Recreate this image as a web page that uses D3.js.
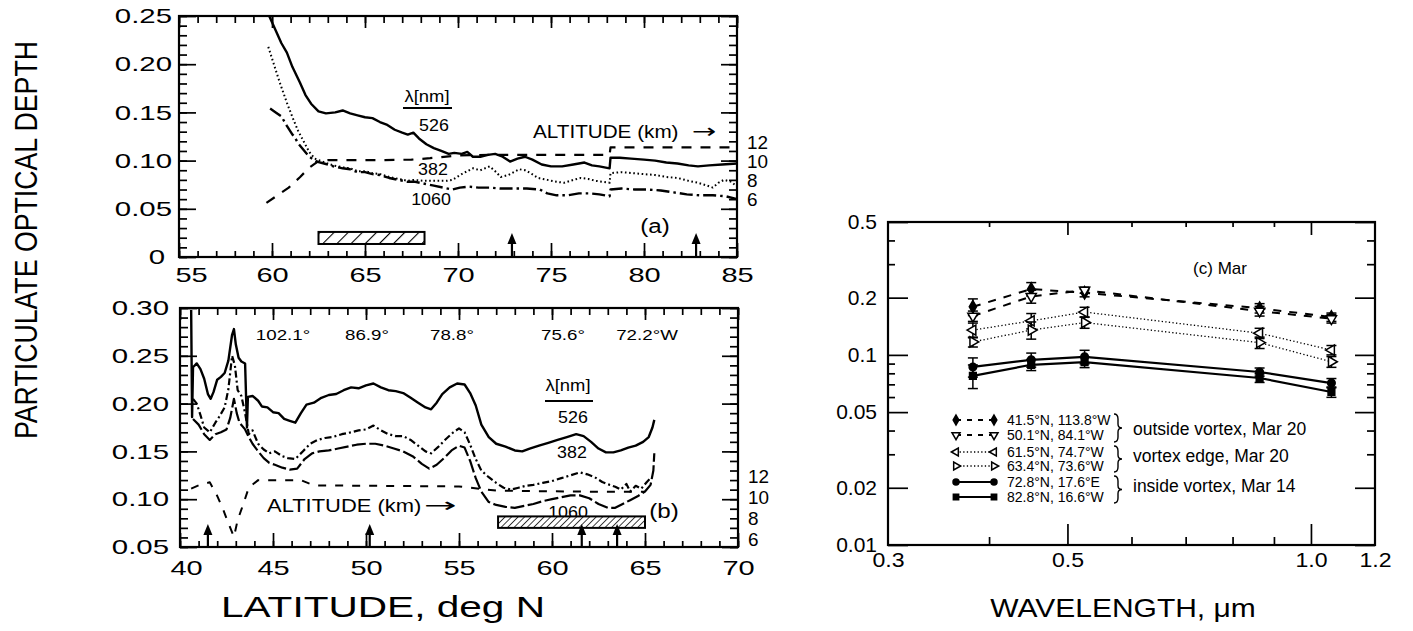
<!DOCTYPE html>
<html><head><meta charset="utf-8">
<script src="https://cdn.jsdelivr.net/npm/d3@7"></script>
<style>body{margin:0;background:#fff}svg{display:block}</style>
</head><body>
<svg id="chart" width="1413" height="631"></svg>
<script>
// ================= DATA =================
// ---- Panel (a) ----
const latTicksA = [55, 60, 65, 70, 75, 80, 85];
const aodTicksA = [0, 0.05, 0.10, 0.15, 0.20, 0.25];
const altTicks = [6, 8, 10, 12];
const a526 = [[59.85,0.25],[60.2,0.235],[60.5,0.222],[60.8,0.212],[61.1,0.197],[61.5,0.181],[61.8,0.168],[62.1,0.159],[62.5,0.151],[62.9,0.149],[63.4,0.150],[63.8,0.152],[64.2,0.149],[64.6,0.147],[65.0,0.145],[65.4,0.144],[65.8,0.140],[66.2,0.137],[66.6,0.132],[67.0,0.129],[67.3,0.127],[67.6,0.129],[67.9,0.123],[68.3,0.117],[68.7,0.113],[69.1,0.110],[69.5,0.107],[69.8,0.108],[70.2,0.107],[70.5,0.109],[70.8,0.104],[71.2,0.104],[71.6,0.106],[72.0,0.107],[72.4,0.104],[72.8,0.099],[73.2,0.102],[73.6,0.104],[74.0,0.101],[74.5,0.096],[75.0,0.094],[75.6,0.094],[76.2,0.096],[76.8,0.098],[77.2,0.095],[77.6,0.094],[78.15,0.092],[78.2,0.103],[78.7,0.103],[79.3,0.102],[80.0,0.101],[80.6,0.100],[81.2,0.098],[81.8,0.097],[82.4,0.095],[82.9,0.094],[83.5,0.095],[84.2,0.096],[85,0.097]];
const a382 = [[59.8,0.218],[60.1,0.200],[60.4,0.182],[60.8,0.160],[61.1,0.145],[61.4,0.131],[61.7,0.120],[62.0,0.109],[62.3,0.102],[62.7,0.099],[63.3,0.095],[63.8,0.093],[64.2,0.092],[64.6,0.089],[65.0,0.089],[65.4,0.087],[65.8,0.086],[66.3,0.083],[66.8,0.081],[67.3,0.079],[67.6,0.080],[68.2,0.079],[68.8,0.079],[69.4,0.079],[69.7,0.080],[70.2,0.086],[70.8,0.092],[71.2,0.090],[71.7,0.094],[72.0,0.089],[72.3,0.083],[72.7,0.085],[73.3,0.091],[73.6,0.090],[73.9,0.087],[74.3,0.082],[74.8,0.080],[75.3,0.078],[75.7,0.077],[76.2,0.080],[76.6,0.082],[77.0,0.081],[77.4,0.079],[77.8,0.078],[78.15,0.077],[78.2,0.087],[78.8,0.088],[79.4,0.087],[80.0,0.086],[80.6,0.085],[81.2,0.083],[81.8,0.082],[82.4,0.079],[82.9,0.077],[83.4,0.074],[83.7,0.072],[84.0,0.077],[84.3,0.080],[84.7,0.078],[85,0.073]];
const a1060 = [[59.9,0.154],[60.2,0.150],[60.5,0.146],[60.8,0.136],[61.1,0.127],[61.2,0.125],[61.4,0.118],[61.7,0.111],[62.0,0.104],[62.4,0.099],[62.8,0.097],[63.3,0.094],[63.8,0.092],[64.2,0.091],[64.6,0.088],[65.0,0.088],[65.4,0.086],[65.8,0.085],[66.3,0.082],[66.8,0.080],[67.3,0.078],[67.7,0.078],[68.2,0.076],[68.7,0.074],[69.2,0.072],[69.7,0.070],[70.1,0.072],[70.6,0.073],[71.1,0.072],[71.7,0.072],[72.3,0.071],[73.0,0.071],[73.7,0.071],[74.4,0.070],[74.8,0.066],[75.3,0.064],[75.9,0.064],[76.5,0.066],[77.1,0.066],[77.6,0.065],[78.15,0.063],[78.2,0.070],[78.8,0.071],[79.5,0.070],[80.2,0.070],[80.9,0.069],[81.6,0.067],[82.3,0.065],[83.0,0.064],[83.7,0.064],[84.4,0.063],[85,0.060]];
const aAltitude = [[59.7,5.7],[60.3,6.5],[60.9,7.3],[61.5,8.4],[62.0,9.4],[62.5,10.1],[63.0,10.2],[66.0,10.2],[67.5,10.25],[68.5,10.4],[70.0,10.7],[72.0,10.75],[78.15,10.75],[78.2,11.55],[85,11.55]];
const arrowsA = [72.9, 82.8];
const hatchA = [62.5, 68.2];          // latitude extent
const hatchAval = [0.0135, 0.026];    // optical-depth extent

// ---- Panel (b) ----
const latTicksB = [40, 45, 50, 55, 60, 65, 70];
const aodTicksB = [0.05, 0.10, 0.15, 0.20, 0.25, 0.30];
const lonLabelsB = ["102.1°", "86.9°", "78.8°", "75.6°", "72.2°W"];
const b526 = [[40.6,0.298],[40.65,0.186],[40.7,0.238],[40.9,0.242],[41.1,0.236],[41.3,0.226],[41.5,0.210],[41.65,0.205],[41.8,0.212],[42.0,0.225],[42.2,0.228],[42.4,0.232],[42.6,0.245],[42.8,0.272],[42.9,0.278],[43.0,0.262],[43.15,0.248],[43.3,0.244],[43.5,0.242],[43.6,0.175],[43.65,0.207],[43.9,0.208],[44.2,0.203],[44.4,0.197],[44.7,0.196],[45.0,0.191],[45.3,0.190],[45.6,0.184],[45.9,0.182],[46.2,0.180],[46.5,0.190],[46.8,0.199],[47.2,0.201],[47.6,0.206],[48.0,0.209],[48.4,0.210],[48.8,0.214],[49.2,0.217],[49.6,0.216],[50.0,0.219],[50.4,0.221],[50.8,0.217],[51.2,0.214],[51.6,0.213],[52.0,0.211],[52.4,0.206],[52.8,0.201],[53.2,0.196],[53.5,0.194],[53.8,0.201],[54.1,0.210],[54.5,0.217],[54.9,0.221],[55.3,0.220],[55.6,0.211],[55.9,0.198],[56.2,0.178],[56.6,0.165],[57.0,0.158],[57.5,0.155],[58.0,0.151],[58.4,0.150],[58.8,0.153],[59.3,0.156],[59.8,0.159],[60.3,0.162],[60.8,0.165],[61.3,0.168],[61.7,0.166],[62.1,0.160],[62.5,0.153],[62.9,0.149],[63.3,0.149],[63.7,0.151],[64.1,0.154],[64.5,0.156],[64.9,0.160],[65.2,0.165],[65.4,0.175],[65.5,0.183]];
const b382 = [[40.7,0.205],[40.9,0.200],[41.1,0.188],[41.3,0.175],[41.6,0.170],[41.9,0.180],[42.1,0.186],[42.4,0.196],[42.6,0.215],[42.8,0.250],[42.95,0.240],[43.1,0.214],[43.3,0.208],[43.5,0.190],[43.7,0.168],[43.9,0.172],[44.2,0.158],[44.5,0.152],[44.8,0.148],[45.1,0.150],[45.5,0.145],[45.8,0.143],[46.2,0.142],[46.6,0.150],[47.0,0.158],[47.4,0.162],[47.8,0.164],[48.2,0.165],[48.7,0.168],[49.2,0.170],[49.6,0.172],[50.0,0.173],[50.4,0.177],[50.8,0.172],[51.2,0.168],[51.6,0.166],[52.0,0.166],[52.4,0.162],[52.8,0.156],[53.2,0.150],[53.5,0.148],[53.9,0.155],[54.3,0.163],[54.7,0.170],[55.0,0.174],[55.3,0.170],[55.6,0.157],[55.9,0.142],[56.2,0.130],[56.6,0.123],[57.0,0.117],[57.4,0.112],[57.8,0.110],[58.2,0.112],[58.6,0.114],[59.0,0.115],[59.5,0.117],[60.0,0.119],[60.5,0.122],[61.0,0.125],[61.5,0.128],[61.9,0.126],[62.3,0.123],[62.7,0.118],[63.1,0.115],[63.4,0.113],[63.7,0.110],[64.0,0.116],[64.2,0.108],[64.5,0.114],[64.8,0.111],[65.1,0.118],[65.3,0.122]];
const b1060 = [[40.7,0.184],[41.0,0.178],[41.3,0.168],[41.6,0.162],[41.9,0.168],[42.2,0.170],[42.5,0.173],[42.7,0.185],[42.9,0.205],[43.05,0.190],[43.2,0.180],[43.5,0.173],[43.7,0.165],[43.9,0.158],[44.2,0.150],[44.5,0.143],[44.8,0.138],[45.1,0.136],[45.5,0.133],[45.9,0.131],[46.3,0.132],[46.7,0.142],[47.1,0.148],[47.5,0.150],[48.0,0.151],[48.5,0.153],[49.0,0.155],[49.5,0.157],[50.0,0.158],[50.5,0.158],[51.0,0.156],[51.5,0.153],[52.0,0.150],[52.5,0.145],[53.0,0.137],[53.4,0.132],[53.8,0.136],[54.2,0.143],[54.6,0.151],[55.0,0.156],[55.3,0.154],[55.6,0.140],[55.9,0.122],[56.2,0.108],[56.6,0.097],[57.0,0.094],[57.5,0.092],[58.0,0.091],[58.5,0.093],[59.0,0.095],[59.5,0.098],[60.0,0.100],[60.5,0.102],[61.0,0.104],[61.5,0.104],[62.0,0.101],[62.5,0.095],[63.0,0.091],[63.4,0.091],[63.8,0.095],[64.2,0.099],[64.6,0.103],[65.0,0.108],[65.3,0.115],[65.45,0.130],[65.5,0.148]];
const bAltitude = [[40.6,10.9],[41.0,11.2],[41.6,11.5],[42.0,10.2],[42.3,9.0],[42.6,7.6],[42.9,6.3],[43.1,7.9],[43.4,9.4],[43.7,11.0],[44.2,11.7],[46.5,11.7],[47.2,11.2],[55.0,11.1],[57.0,10.7],[62.0,10.6],[65.0,10.6]];
const arrowsB = [41.5, 50.2, 61.6, 63.5];
const hatchB = [57.1, 65.0];
const hatchBval = [0.070, 0.082];

// ---- Panel (c) ----
const wavelengths = [0.382, 0.451, 0.525, 0.864, 1.06];
const waveTicks = [0.3, 0.5, 1.0, 1.2];
const waveMinor = [0.4, 0.6, 0.7, 0.8, 0.9];
const aodTicksC = [0.01, 0.02, 0.05, 0.1, 0.2, 0.5];
const aodMinorC = [0.03, 0.04, 0.06, 0.07, 0.08, 0.09, 0.3, 0.4];
const siteLabels = ["41.5°N, 113.8°W", "50.1°N, 84.1°W", "61.5°N, 74.7°W", "63.4°N, 73.6°W", "72.8°N, 17.6°E", "82.8°N, 16.6°W"];
const tau41 = [0.179, 0.222, 0.212, 0.176, 0.158];
const err41 = [0.018, 0.018, 0.010, 0.010, 0.008];
const tau50 = [0.160, 0.203, 0.219, 0.170, 0.155];
const err50 = [0.010, 0.016, 0.008, 0.010, 0.008];
const tau61 = [0.135, 0.151, 0.168, 0.130, 0.106];
const err61 = [0.012, 0.014, 0.010, 0.008, 0.006];
const tau63 = [0.117, 0.135, 0.148, 0.116, 0.092];
const err63 = [0.007, 0.014, 0.010, 0.008, 0.006];
const tau72 = [0.0864, 0.0942, 0.0977, 0.0813, 0.0711];
const err72 = [0.010, 0.008, 0.008, 0.004, 0.004];
const tau82 = [0.0775, 0.0887, 0.0917, 0.0756, 0.0638];
const err82 = [0.011, 0.006, 0.006, 0.004, 0.004];
const groupLabels = ["outside vortex, Mar 20", "vortex edge, Mar 20", "inside vortex, Mar 14"];

// ================= DRAWING =================
const FONT = "'Liberation Sans', Arial, Helvetica, sans-serif";
const svg = d3.select("#chart");
const root = svg.append("g");

function txt(g, x, y, s, fs, sx = 1, anchor = "middle") {
  return g.append("text").attr("transform", `translate(${x},${y}) scale(${sx},1)`)
    .attr("text-anchor", anchor).attr("font-size", fs).attr("font-family", FONT)
    .attr("fill", "#000").text(s);
}
function altText(g, x, y, sx, ax, asx) {
  txt(g, x, y, "ALTITUDE (km)", 18, sx, "start");
  g.append("text").attr("transform", `translate(${ax},${y}) scale(${asx},1)`)
    .attr("font-family", "'DejaVu Sans', sans-serif").attr("font-size", 20).attr("fill", "#000").text("→");
}
function tickAxis(g, axisFn, scale, values, size, tr, sw = 1.7) {
  const gg = g.append("g").attr("transform", tr)
    .call(axisFn(scale).tickValues(values).tickSize(size).tickSizeOuter(0).tickFormat(""));
  gg.select(".domain").remove();
  gg.selectAll("line").attr("stroke", "#000").attr("stroke-width", sw);
  return gg;
}
function labelAxis(g, axisFn, scale, values, fmt, tr, pad, fs, sx) {
  const gg = g.append("g").attr("transform", tr)
    .call(axisFn(scale).tickValues(values).tickSize(0).tickPadding(pad).tickFormat(fmt));
  gg.select(".domain").remove();
  gg.selectAll("line").remove();
  gg.attr("font-family", FONT).attr("font-size", fs);
  gg.selectAll("text").attr("fill", "#000").each(function () {
    const t = d3.select(this);
    const x = +(t.attr("x") || 0);
    t.attr("x", x / sx).attr("transform", `scale(${sx},1)`);
  });
  return gg;
}
function nudgeFirst(gg, dx, sx) {
  const t = gg.select(".tick text");
  t.attr("x", (+(t.attr("x") || 0)) + dx / sx);
}
function frame(g, x0, x1, y0, y1) {
  g.append("rect").attr("x", x0).attr("y", y0).attr("width", x1 - x0).attr("height", y1 - y0)
    .attr("fill", "none").attr("stroke", "#000").attr("stroke-width", 2.2);
}
function arrow(g, x, yTop, yBot) {
  g.append("line").attr("x1", x).attr("x2", x).attr("y1", yTop + 6).attr("y2", yBot)
    .attr("stroke", "#000").attr("stroke-width", 2.2);
  g.append("path").attr("d", `M${x},${yTop} L${x - 4.5},${yTop + 11} L${x + 4.5},${yTop + 11} Z`).attr("fill", "#000");
}
function seriesPath(g, data, xs, ys, dash, sw) {
  g.append("path").datum(data)
    .attr("d", d3.line().x(d => xs(d[0])).y(d => ys(d[1])))
    .attr("fill", "none").attr("stroke", "#000").attr("stroke-width", sw)
    .attr("stroke-dasharray", dash).attr("stroke-linejoin", "round");
}

// hatch patterns
const defs = svg.append("defs");
function hatchPattern(id, spacing, sw) {
  const p = defs.append("pattern").attr("id", id).attr("patternUnits", "userSpaceOnUse")
    .attr("width", spacing).attr("height", spacing).attr("patternTransform", "rotate(45)");
  p.append("rect").attr("width", spacing).attr("height", spacing).attr("fill", "#fff");
  p.append("line").attr("x1", 0).attr("x2", 0).attr("y1", 0).attr("y2", spacing)
    .attr("stroke", "#000").attr("stroke-width", sw);
}
hatchPattern("hatchA", 10, 2.2);
hatchPattern("hatchB", 4.6, 1.5);

// ---------- Panel (a) ----------
const xA = d3.scaleLinear().domain([55, 85]).range([179, 737]);
const yA = d3.scaleLinear().domain([0, 0.25]).range([257, 16]);
const altA = d3.scaleLinear().domain([6, 12]).range([200, 143]);
const gA = root.append("g");
const minorA = d3.range(0, 26).map(i => +(i * 0.01).toFixed(2));
const minorLatA = d3.range(55, 86);
tickAxis(gA, d3.axisLeft, yA, aodTicksA, -17, "translate(179,0)");
tickAxis(gA, d3.axisLeft, yA, minorA, -8, "translate(179,0)");
tickAxis(gA, d3.axisRight, yA, aodTicksA, -16, "translate(737,0)");
tickAxis(gA, d3.axisRight, yA, minorA, -8, "translate(737,0)");
tickAxis(gA, d3.axisBottom, xA, latTicksA, -14, "translate(0,257)");
tickAxis(gA, d3.axisBottom, xA, minorLatA, -6, "translate(0,257)");
tickAxis(gA, d3.axisTop, xA, latTicksA, -12, "translate(0,16)");
tickAxis(gA, d3.axisTop, xA, minorLatA, -7, "translate(0,16)");
frame(gA, 179, 737, 16, 257);
const yLabA = labelAxis(gA, d3.axisLeft, yA, aodTicksA, d => d === 0 ? "0" : d3.format(".2f")(d), "translate(179,0)", 7, 21, 1.4);
nudgeFirst(yLabA, -7, 1.4);
const xLabA = labelAxis(gA, d3.axisBottom, xA, latTicksA, d3.format("d"), "translate(0,257)", 10, 21, 1.38);
nudgeFirst(xLabA, 12, 1.38);
labelAxis(gA, d3.axisRight, altA, altTicks, d3.format("d"), "translate(737,0)", 10, 18, 1.05);

seriesPath(gA, aAltitude, xA, d => altA(d), "10,9", 2.2);
seriesPath(gA, a382, xA, yA, "1.6,2.6", 2);
seriesPath(gA, a1060, xA, yA, "13,4,2.5,4", 2.4);
seriesPath(gA, a526, xA, yA, null, 2.4);
gA.append("rect").attr("x", xA(hatchA[0])).attr("y", yA(hatchAval[1]))
  .attr("width", xA(hatchA[1]) - xA(hatchA[0])).attr("height", yA(hatchAval[0]) - yA(hatchAval[1]))
  .attr("fill", "url(#hatchA)").attr("stroke", "#000").attr("stroke-width", 2);
arrowsA.forEach(l => arrow(gA, xA(l), 233, 257));
txt(gA, 427, 102, "λ[nm]", 16, 1.15);
gA.append("line").attr("x1", 403).attr("x2", 452).attr("y1", 108).attr("y2", 108).attr("stroke", "#000").attr("stroke-width", 2);
txt(gA, 434, 131, "526", 17, 1.05);
txt(gA, 433, 175, "382", 17, 1.05);
txt(gA, 431, 205, "1060", 17, 1.05);
altText(gA, 533, 138, 1.15, 692, 1.45);
txt(gA, 655, 233, "(a)", 21, 1.15);

// ---------- Panel (b) ----------
const xB = d3.scaleLinear().domain([40, 70]).range([180, 738]);
const yB = d3.scaleLinear().domain([0.05, 0.30]).range([547, 308]);
const altB = d3.scaleLinear().domain([6, 12]).range([540, 477]);
const gB = root.append("g");
const minorB = d3.range(5, 31).map(i => +(i * 0.01).toFixed(2));
const minorLatB = d3.range(40, 71);
tickAxis(gB, d3.axisLeft, yB, aodTicksB, -17, "translate(180,0)");
tickAxis(gB, d3.axisLeft, yB, minorB, -8, "translate(180,0)");
tickAxis(gB, d3.axisRight, yB, aodTicksB, -16, "translate(738,0)");
tickAxis(gB, d3.axisRight, yB, minorB, -8, "translate(738,0)");
tickAxis(gB, d3.axisBottom, xB, latTicksB, -14, "translate(0,547)");
tickAxis(gB, d3.axisBottom, xB, minorLatB, -6, "translate(0,547)");
tickAxis(gB, d3.axisTop, xB, latTicksB, -12, "translate(0,308)");
tickAxis(gB, d3.axisTop, xB, minorLatB, -7, "translate(0,308)");
frame(gB, 180, 738, 308, 547);
labelAxis(gB, d3.axisLeft, yB, aodTicksB, d3.format(".2f"), "translate(180,0)", 11, 21, 1.4);
const xLabB = labelAxis(gB, d3.axisBottom, xB, latTicksB, d3.format("d"), "translate(0,547)", 13, 21, 1.38);
nudgeFirst(xLabB, 6, 1.38);
labelAxis(gB, d3.axisRight, altB, altTicks, d3.format("d"), "translate(738,0)", 10, 18, 1.05);

seriesPath(gB, bAltitude, xB, d => altB(d), "8,9", 2);
seriesPath(gB, b1060, xB, yB, "14,3.5", 2.2);
seriesPath(gB, b382, xB, yB, "7,3,2,3", 2.2);
seriesPath(gB, b526, xB, yB, null, 2.4);
const lonX = [283, 367, 452, 563, 647];
lonLabelsB.forEach((s, i) => txt(gB, lonX[i], 340, s, 15, 1.25));
txt(gB, 568, 391, "λ[nm]", 16, 1.15);
gB.append("line").attr("x1", 545).attr("x2", 593).attr("y1", 401).attr("y2", 401).attr("stroke", "#000").attr("stroke-width", 2);
txt(gB, 573, 423, "526", 17, 1.05);
txt(gB, 572, 458, "382", 17, 1.05);
txt(gB, 568, 518, "1060", 17, 1.05);
gB.append("rect").attr("x", xB(hatchB[0])).attr("y", yB(hatchBval[1]))
  .attr("width", xB(hatchB[1]) - xB(hatchB[0])).attr("height", yB(hatchBval[0]) - yB(hatchBval[1]))
  .attr("fill", "url(#hatchB)").attr("stroke", "#000").attr("stroke-width", 2);
arrowsB.forEach(l => arrow(gB, xB(l), 524, 547));
altText(gB, 267, 512, 1.22, 424, 1.95);
txt(gB, 664, 518, "(b)", 21, 1.15);

// shared titles
root.append("text").attr("transform", "translate(37,240) rotate(-90) scale(1,1.2)")
  .attr("text-anchor", "middle").attr("font-size", 26.7).attr("font-family", FONT).text("PARTICULATE OPTICAL DEPTH");
txt(root, 383, 617, "LATITUDE, deg N", 29, 1.4);

// ---------- Panel (c) ----------
const xC = d3.scaleLog().domain([0.3, 1.2]).range([888, 1375]);
const yC = d3.scaleLog().domain([0.01, 0.5]).range([545, 222]);
const gC = root.append("g");
tickAxis(gC, d3.axisLeft, yC, aodTicksC, -20, "translate(888,0)");
tickAxis(gC, d3.axisLeft, yC, aodMinorC, -7, "translate(888,0)");
tickAxis(gC, d3.axisRight, yC, aodTicksC, -20, "translate(1375,0)");
tickAxis(gC, d3.axisRight, yC, aodMinorC, -8, "translate(1375,0)");
tickAxis(gC, d3.axisBottom, xC, waveTicks.slice(1, 3), -21, "translate(0,545)");
tickAxis(gC, d3.axisBottom, xC, waveMinor, -8, "translate(0,545)");
tickAxis(gC, d3.axisTop, xC, waveTicks.slice(1, 3), -13, "translate(0,222)");
tickAxis(gC, d3.axisTop, xC, waveMinor, -5, "translate(0,222)");
frame(gC, 888, 1375, 222, 545);
labelAxis(gC, d3.axisLeft, yC, aodTicksC, d => String(d), "translate(888,0)", 11, 20, 1.05);
labelAxis(gC, d3.axisBottom, xC, waveTicks, d => d === 1 ? "1.0" : String(d), "translate(0,545)", 7, 21, 1.1);

const seriesC = [
  { tau: tau41, err: err41, dash: "8,8", sw: 2, sym: d3.symbolDiamond, rot: 0, fill: "#000" },
  { tau: tau50, err: err50, dash: "8,8", sw: 2, sym: d3.symbolTriangle, rot: 180, fill: "#fff" },
  { tau: tau61, err: err61, dash: "1.3,2.3", sw: 1.3, sym: d3.symbolTriangle, rot: -90, fill: "#fff" },
  { tau: tau63, err: err63, dash: "1.3,2.3", sw: 1.3, sym: d3.symbolTriangle, rot: 90, fill: "#fff" },
  { tau: tau72, err: err72, dash: null, sw: 2.2, sym: d3.symbolCircle, rot: 0, fill: "#000" },
  { tau: tau82, err: err82, dash: null, sw: 2.2, sym: d3.symbolSquare, rot: 0, fill: "#000" }
];
function drawMarker(g, s, x, y, size) {
  g.append("path").attr("d", d3.symbol().type(s.sym).size(size)())
    .attr("transform", `translate(${x},${y}) rotate(${s.rot})`)
    .attr("fill", s.fill).attr("stroke", "#000").attr("stroke-width", 1.5);
}
seriesC.forEach(s => {
  const pts = wavelengths.map((w, i) => [w, s.tau[i], s.err[i]]);
  seriesPath(gC, pts, xC, yC, s.dash, s.sw);
  pts.forEach(p => {
    const x = xC(p[0]);
    const y1 = yC(p[1] + p[2]), y2 = yC(p[1] - p[2]);
    gC.append("line").attr("x1", x).attr("x2", x).attr("y1", y1).attr("y2", y2).attr("stroke", "#000").attr("stroke-width", 1.5);
    [y1, y2].forEach(yy => gC.append("line").attr("x1", x - 5).attr("x2", x + 5).attr("y1", yy).attr("y2", yy).attr("stroke", "#000").attr("stroke-width", 1.5));
    drawMarker(gC, s, x, yC(p[1]), 45);
  });
});

// legend
const legY = [420, 435, 452, 466, 482, 497];
seriesC.forEach((s, i) => {
  const y = legY[i];
  gC.append("line").attr("x1", 956).attr("x2", 994).attr("y1", y).attr("y2", y)
    .attr("stroke", "#000").attr("stroke-width", s.sw).attr("stroke-dasharray", s.dash ? (s.dash === "8,8" ? "5,6" : s.dash) : null);
  drawMarker(gC, s, 956, y, 28);
  drawMarker(gC, s, 994, y, 28);
  txt(gC, 1007, y + 5, siteLabels[i], 14, 1.0, "start");
});
function brace(g, x, y0, y1) {
  const m = (y0 + y1) / 2;
  g.append("path").attr("d",
    `M${x - 3},${y0} Q${x + 1},${y0} ${x + 1},${y0 + 5} L${x + 1},${m - 4} Q${x + 1},${m} ${x + 5},${m} Q${x + 1},${m} ${x + 1},${m + 4} L${x + 1},${y1 - 5} Q${x + 1},${y1} ${x - 3},${y1}`)
    .attr("fill", "none").attr("stroke", "#000").attr("stroke-width", 1.4);
}
brace(gC, 1117, 414, 442);
brace(gC, 1117, 446, 472);
brace(gC, 1117, 476, 503);
const grpY = [435, 462, 492];
groupLabels.forEach((s, i) => txt(gC, 1133, grpY[i], s, 17.5, 1.0, "start"));
txt(gC, 1220, 274, "(c) Mar", 17, 1.0);
txt(root, 1123, 617, "WAVELENGTH, μm", 25, 1.2);
</script>
</body></html>
